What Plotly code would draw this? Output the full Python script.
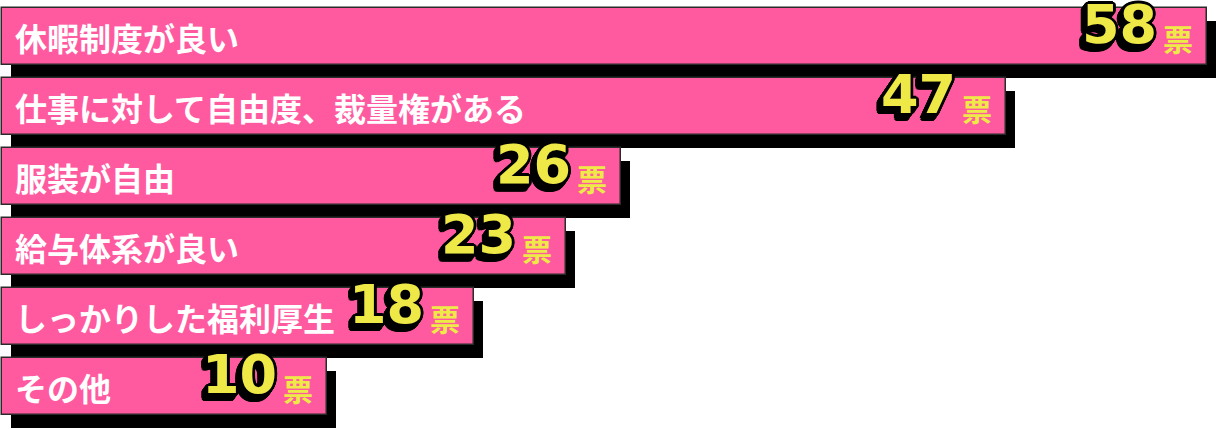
"""Horizontal vote-count bars with offset shadows and sticker-style numbers."""

import math

import plotly.graph_objs as go

# --- data -------------------------------------------------------------------
reasons = [
    "休暇制度が良い",
    "仕事に対して自由度、裁量権がある",
    "服装が自由",
    "給与体系が良い",
    "しっかりした福利厚生",
    "その他",
]
votes = [58, 47, 26, 23, 18, 10]
unit_label = "票"

# --- look -------------------------------------------------------------------
W, H = 1220, 429
PINK = "#FF5A9F"
YELLOW = "#EEE947"
INK = "#000000"

PX_PER_UNIT = 18.33      # horizontal scale
ORIGIN_PX = 144          # where 0 votes sits
BAR_START_PX = 2         # bars start near the left edge
ROW_PX = 70
FIRST_ROW_PX = 36.5
BAR_PX = 57
SHADOW_DX, SHADOW_DY = 9, 13

x_range = [-ORIGIN_PX / PX_PER_UNIT, (W - ORIGIN_PX) / PX_PER_UNIT]
y_range = [(H - FIRST_ROW_PX) / ROW_PX, -FIRST_ROW_PX / ROW_PX]
base = (BAR_START_PX - ORIGIN_PX) / PX_PER_UNIT
rows = list(range(len(votes)))


def sticker_shadow():
    """Black outline plus a small extrusion towards the lower left."""
    parts = []
    for k in range(7):
        ox, oy = -0.7 * k, 0.85 * k
        for a in range(0, 360, 30):
            dx = ox + 2.8 * math.cos(math.radians(a))
            dy = oy + 2.8 * math.sin(math.radians(a))
            parts.append(f"{dx:.1f}px {dy:.1f}px 0 {INK}")
    return ", ".join(parts)


fig = go.Figure()

# drop shadows
fig.add_trace(
    go.Bar(
        orientation="h",
        y=[r + SHADOW_DY / ROW_PX for r in rows],
        x=[v - base for v in votes],
        base=base + SHADOW_DX / PX_PER_UNIT,
        width=BAR_PX / ROW_PX,
        marker=dict(color=INK, line=dict(width=0)),
        hoverinfo="skip",
        showlegend=False,
    )
)

# main bars
fig.add_trace(
    go.Bar(
        orientation="h",
        y=rows,
        x=[v - base for v in votes],
        base=base,
        width=BAR_PX / ROW_PX,
        marker=dict(color=PINK, line=dict(width=1.5, color="#2a2a2a")),
        customdata=votes,
        hovertext=reasons,
        hovertemplate="%{hovertext}: %{customdata}票<extra></extra>",
        showlegend=False,
    )
)

shadow_css = sticker_shadow()
for r, label, v in zip(rows, reasons, votes):
    fig.add_annotation(
        x=base, y=r, xref="x", yref="y",
        text=label, showarrow=False,
        xanchor="left", yanchor="middle", xshift=11,
        font=dict(family="Noto Sans CJK JP", size=32, weight=700, color="white"),
    )
    fig.add_annotation(
        x=v, y=r, xref="x", yref="y",
        text=unit_label, showarrow=False,
        xanchor="right", yanchor="middle", xshift=-12, yshift=-1,
        font=dict(family="Noto Sans CJK JP", size=30, weight=700, color=YELLOW),
    )
    fig.add_annotation(
        x=v, y=r, xref="x", yref="y",
        text=str(v), showarrow=False,
        xanchor="right", yanchor="middle", xshift=-48, yshift=12,
        font=dict(family="DejaVu Sans", size=54, weight=700, color=YELLOW,
                  shadow=shadow_css),
    )

fig.update_layout(
    width=W,
    height=H,
    margin=dict(l=0, r=0, t=0, b=0),
    paper_bgcolor="white",
    plot_bgcolor="white",
    barmode="overlay",
    bargap=0,
    xaxis=dict(range=x_range, visible=False, fixedrange=True),
    yaxis=dict(range=y_range, visible=False, fixedrange=True),
)

# the page's default body margin would push the chart 8px off its spot
fig.write_html(
    "out.html",
    config={"displayModeBar": False},
    post_script="document.body.style.margin = '0';",
)
